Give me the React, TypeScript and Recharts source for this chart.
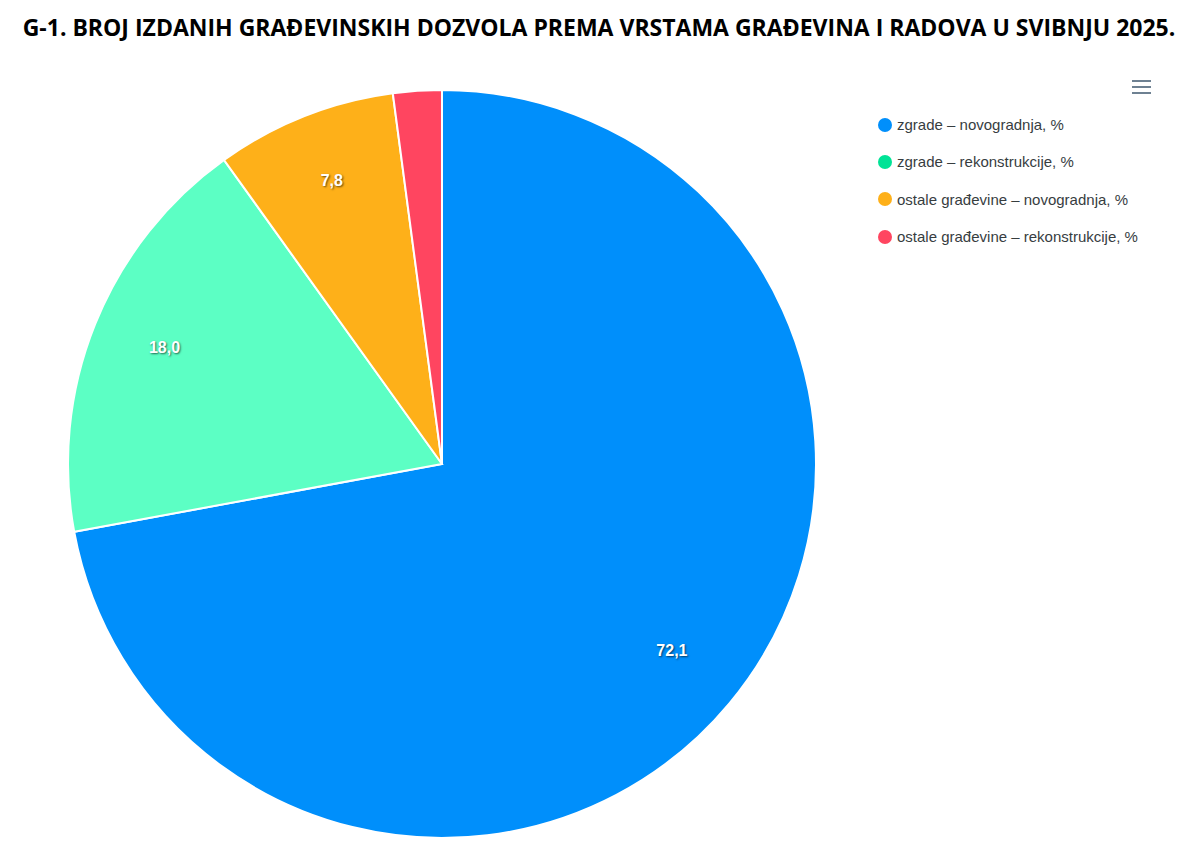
import { PieChart, Pie, Cell, Legend } from 'recharts';

// share of issued building permits, May 2025 (%)
const categories = [
	'zgrade – novogradnja, %',
	'zgrade – rekonstrukcije, %',
	'ostale građevine – novogradnja, %',
	'ostale građevine – rekonstrukcije, %',
];
const shares = [72.1, 18.0, 7.8, 2.1];
const sliceColors = ['#008FFB', '#5CFFC4', '#FEB019', '#FF4560'];
const legendColors = ['#008FFB', '#00E396', '#FEB019', '#FF4560'];

const data = categories.map((name, i) => ({ name, value: shares[i] }));

const RAD = Math.PI / 180;

const renderLabel = (props: any) => {
	const { cx, cy, midAngle, outerRadius, value } = props;
	if (value < 3) return null;
	const r = outerRadius * 0.8;
	const x = cx + r * Math.cos(-midAngle * RAD);
	const y = cy + r * Math.sin(-midAngle * RAD) - 5;
	return (
		<text
			x={x}
			y={y}
			fill="#fff"
			textAnchor="middle"
			dominantBaseline="central"
			fontFamily="'Liberation Sans', Arial, sans-serif"
			fontSize={16}
			fontWeight="bold"
			style={{ textShadow: '1px 1px 2px rgba(0,0,0,0.6)' }}
		>
			{value.toFixed(1).replace('.', ',')}
		</text>
	);
};

const LegendBox = () => (
	<div style={{ fontFamily: "'Liberation Sans', Arial, sans-serif", fontSize: 15, color: '#373d3f' }}>
		{categories.map((c, i) => (
			<div key={c} style={{ display: 'flex', alignItems: 'center', height: 37.3 }}>
				<span style={{
					display: 'inline-block',
					width: 14,
					height: 14,
					borderRadius: 7,
					background: legendColors[i],
					marginRight: 5,
				}} />
				<span>{c}</span>
			</div>
		))}
	</div>
);

export default function App() {
	return (
		<div style={{ position: 'absolute', left: 0, top: 0, width: 1190, height: 852, background: '#fff' }}>
			<div style={{
				position: 'absolute',
				top: 10,
				left: 0,
				width: 1198,
				textAlign: 'center',
				fontFamily: "'Open Sans', sans-serif",
				fontWeight: 700,
				fontSize: 23,
				lineHeight: '34px',
				color: '#000',
				whiteSpace: 'nowrap',
			}}>
				G-1. BROJ IZDANIH GRAĐEVINSKIH DOZVOLA PREMA VRSTAMA GRAĐEVINA I RADOVA U SVIBNJU 2025.
			</div>
			<div style={{ position: 'absolute', left: 1132, top: 80, width: 19 }}>
				{[0, 1, 2].map((k) => (
					<div key={k} style={{ height: 2, background: '#6E8192', marginBottom: 4 }} />
				))}
			</div>
			<PieChart
				width={1190}
				height={852}
				margin={{ top: 0, right: 0, bottom: 0, left: 0 }}
				style={{ position: 'absolute', left: 0, top: 0 }}
			>
				<Pie
					data={data}
					dataKey="value"
					nameKey="name"
					cx={442}
					cy={464}
					outerRadius={374}
					startAngle={90}
					endAngle={-270}
					stroke="#fff"
					strokeWidth={2}
					label={renderLabel}
					labelLine={false}
					isAnimationActive={false}
				>
					{data.map((d, i) => (
						<Cell key={d.name} fill={sliceColors[i]} />
					))}
				</Pie>
				<Legend
					content={<LegendBox />}
					layout="vertical"
					verticalAlign="top"
					align="right"
					wrapperStyle={{ position: 'absolute', left: 878, top: 106, width: 300 }}
				/>
			</PieChart>
		</div>
	);
}
